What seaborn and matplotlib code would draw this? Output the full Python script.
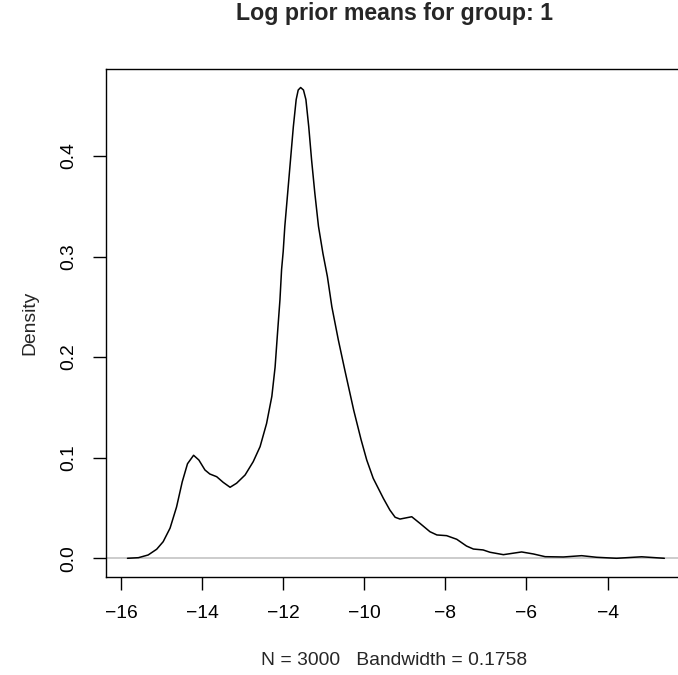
import matplotlib
matplotlib.use("Agg")
import matplotlib.pyplot as plt
import seaborn as sns
import pandas as pd

# density curve (x = log prior mean, y = density)
log_mean = [-15.84, -15.57, -15.33, -15.12, -14.96, -14.79, -14.63, -14.49, -14.36, -14.21,
            -14.08, -13.93, -13.81, -13.64, -13.48, -13.31, -13.15, -12.94, -12.74, -12.57,
            -12.41, -12.28, -12.20, -12.14, -12.08, -12.04, -12.00, -11.96, -11.89, -11.82,
            -11.75, -11.68, -11.63, -11.57, -11.50, -11.44, -11.37, -11.30, -11.22, -11.13,
            -11.02, -10.91, -10.80, -10.64, -10.48, -10.26, -10.08, -9.94, -9.78, -9.53,
            -9.37, -9.24, -9.12, -8.83, -8.63, -8.38, -8.21, -7.97, -7.72, -7.48,
            -7.31, -7.07, -6.90, -6.57, -6.12, -5.83, -5.54, -5.09, -4.64, -4.27,
            -3.78, -3.16, -2.60]
density = [0.0, 0.0006, 0.0033, 0.009, 0.0165, 0.030, 0.051, 0.076, 0.094, 0.1024,
           0.0977, 0.0878, 0.0838, 0.0811, 0.0755, 0.0706, 0.0746, 0.0828, 0.096, 0.111,
           0.134, 0.161, 0.190, 0.224, 0.257, 0.287, 0.305, 0.330, 0.363, 0.396,
           0.429, 0.456, 0.4655, 0.468, 0.4655, 0.456, 0.429, 0.396, 0.363, 0.330,
           0.303, 0.280, 0.250, 0.217, 0.187, 0.147, 0.118, 0.0977, 0.0795, 0.0596,
           0.048, 0.0408, 0.039, 0.0413, 0.0348, 0.0264, 0.0232, 0.0225, 0.0189, 0.0122,
           0.0092, 0.0083, 0.006, 0.0036, 0.0063, 0.0043, 0.0016, 0.0013, 0.0026, 0.001,
           0.0, 0.0015, 0.0]

x_ticks = [-16, -14, -12, -10, -8, -6, -4]
y_ticks = [0.0, 0.1, 0.2, 0.3, 0.4]
y_labels = ["0.0", "0.1", "0.2", "0.3", "0.4"]

df = pd.DataFrame({"x": log_mean, "density": density})

sns.set_style("ticks")
plt.rcParams["font.family"] = ["Liberation Sans", "DejaVu Sans"]

fig = plt.figure(figsize=(6.78, 6.75), dpi=100)
# plot box runs a little past the right edge of the picture, like the reference
ax = fig.add_axes([106 / 678, 98 / 675, 576 / 678, 508 / 675])

ax.axhline(0, color="#BEBEBE", lw=1.1, zorder=1)
sns.lineplot(data=df, x="x", y="density", color="black", lw=1.1, ax=ax, zorder=2)

ax.set_xlim(-16.37, -2.165)
ax.set_ylim(-0.0186, 0.4864)
ax.set_xticks(x_ticks)
ax.set_xticklabels([str(t).replace("-", "\u2212") for t in x_ticks])
ax.set_yticks(y_ticks)
ax.set_yticklabels(y_labels, rotation=90, va="center")

for s in ax.spines.values():
    s.set_visible(True)
    s.set_color("black")
    s.set_linewidth(1.0)

ax.tick_params(direction="out", length=9.4, width=1.0, colors="black",
               labelsize=13.9, pad=11)

ax.set_title("Log prior means for group: 1", fontsize=16.7, fontweight="bold", y=1.0807)
ax.set_xlabel("N = 3000   Bandwidth = 0.1758", fontsize=13.9)
ax.set_ylabel("Density", fontsize=13.9)
ax.xaxis.set_label_coords(0.5, -0.165)
ax.xaxis.label.set_va("center")
ax.yaxis.set_label_coords(-0.132, 0.5)
ax.yaxis.label.set_va("center")

fig.savefig("out.png", dpi=100)
